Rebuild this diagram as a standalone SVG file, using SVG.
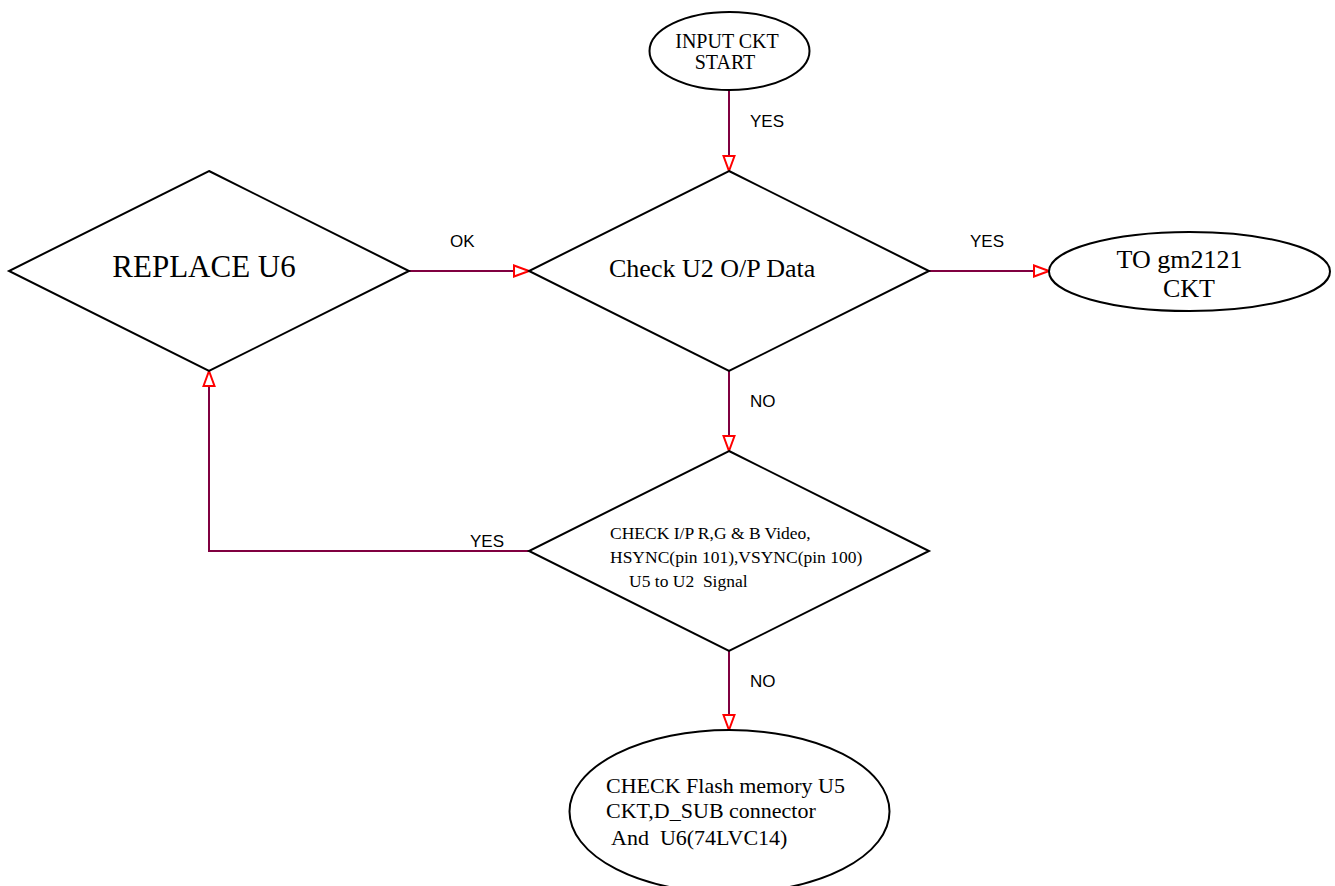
<svg xmlns="http://www.w3.org/2000/svg" width="1335" height="886" viewBox="0 0 1335 886">
<style>
.shape{fill:#fff;stroke:#000;stroke-width:2}
.conn{fill:none;stroke:#800040;stroke-width:2}
.t{font-family:"Liberation Serif","Times New Roman",serif;fill:#000}
.lbl{font-family:"Liberation Sans",Arial,sans-serif;font-size:17px;fill:#000}
</style>
<defs>
<marker id="arr" markerUnits="userSpaceOnUse" viewBox="0 0 17 14" markerWidth="17" markerHeight="14" refX="16" refY="7" orient="auto">
<path d="M1,1.5 L16,7 L1,12.5 Z" fill="#fff" stroke="#ff0000" stroke-width="2"/>
</marker>
</defs>
<rect width="1335" height="886" fill="#fff"/>
<g id="connectors">
<line class="conn" x1="729" y1="90" x2="729" y2="171" marker-end="url(#arr)"/>
<line class="conn" x1="409" y1="271" x2="529" y2="271" marker-end="url(#arr)"/>
<line class="conn" x1="929" y1="271" x2="1049" y2="271" marker-end="url(#arr)"/>
<line class="conn" x1="729" y1="371" x2="729" y2="451" marker-end="url(#arr)"/>
<polyline class="conn" points="529,551 209,551 209,371" marker-end="url(#arr)"/>
<line class="conn" x1="729" y1="651" x2="729" y2="730" marker-end="url(#arr)"/>
<text class="lbl" x="750" y="127">YES</text>
<text class="lbl" x="450" y="247">OK</text>
<text class="lbl" x="970" y="247">YES</text>
<text class="lbl" x="750" y="407">NO</text>
<text class="lbl" x="470" y="547">YES</text>
<text class="lbl" x="750" y="687">NO</text>
</g>
<g id="start">
<ellipse class="shape" cx="729.5" cy="51" rx="80" ry="39"/>
<text class="t" font-size="20" text-anchor="middle" x="727" y="47.5">INPUT CKT</text>
<text class="t" font-size="20" text-anchor="middle" x="725" y="68.5">START</text>
</g>
<g id="check-u2">
<polygon class="shape" points="729,171 929,271 729,371 529,271"/>
<text class="t" font-size="26" x="609" y="277">Check U2 O/P Data</text>
</g>
<g id="replace-u6">
<polygon class="shape" points="209,171 409,271 209,371 9,271"/>
<text class="t" font-size="31" text-anchor="middle" x="204" y="277">REPLACE U6</text>
</g>
<g id="to-gm2121">
<ellipse class="shape" cx="1189.5" cy="271.5" rx="140.5" ry="39.5"/>
<text class="t" font-size="26" text-anchor="middle" x="1179.5" y="268">TO gm2121</text>
<text class="t" font-size="26" text-anchor="middle" x="1189" y="297">CKT</text>
</g>
<g id="check-ip">
<polygon class="shape" points="729,451 929,551 729,651 529,551"/>
<text class="t" font-size="17.5" x="610" y="539">CHECK I/P R,G &amp; B Video,</text>
<text class="t" font-size="17.5" x="610" y="563">HSYNC(pin 101),VSYNC(pin 100)</text>
<text class="t" font-size="17.5" x="629" y="587" xml:space="preserve">U5 to U2  Signal</text>
</g>
<g id="check-flash">
<ellipse class="shape" cx="729.5" cy="811.5" rx="160" ry="81.5"/>
<text class="t" font-size="22" x="606" y="793">CHECK Flash memory U5</text>
<text class="t" font-size="22" x="606" y="818">CKT,D_SUB connector</text>
<text class="t" font-size="22" x="611" y="845" xml:space="preserve">And  U6(74LVC14)</text>
</g>
</svg>
